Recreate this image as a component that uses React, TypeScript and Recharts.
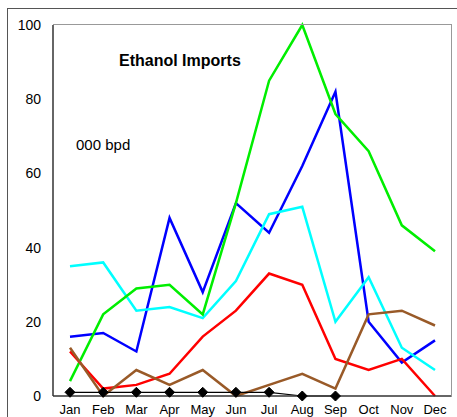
import { LineChart, Line, XAxis, YAxis } from "recharts"

const months = ["Jan", "Feb", "Mar", "Apr", "May", "Jun", "Jul", "Aug", "Sep", "Oct", "Nov", "Dec"]

const blueSeries = [16, 17, 12, 48, 28, 52, 44, 62, 82, 20, 9, 15]
const cyanSeries = [35, 36, 23, 24, 21, 31, 49, 51, 20, 32, 13, 7]
const greenSeries = [4, 22, 29, 30, 22, 52, 85, 100, 76, 66, 46, 39]
const redSeries = [12, 2, 3, 6, 16, 23, 33, 30, 10, 7, 10, 0]
const brownSeries = [13, 0, 7, 3, 7, 0, 3, 6, 2, 22, 23, 19]
const blackSeries = [1, 1, 1, 1, 1, 1, 1, 0, 0, null, null, null]

const yTicks = [0, 20, 40, 60, 80, 100]

const data = months.map((m, i) => ({
  month: m,
  blue: blueSeries[i],
  cyan: cyanSeries[i],
  green: greenSeries[i],
  red: redSeries[i],
  brown: brownSeries[i],
  black: blackSeries[i],
}))

const font = "'Liberation Sans', Arial, sans-serif"

// diamond marker for the black series
function Diamond(props: any) {
  const { cx, cy, key } = props
  if (cx == null || cy == null || props.value == null) return <g key={key} />
  const r = 5
  return (
    <path
      key={key}
      d={`M${cx},${cy - r} L${cx + r},${cy} L${cx},${cy + r} L${cx - r},${cy} Z`}
      fill="#000"
      stroke="#000"
    />
  )
}

export default function App() {
  return (
    <div
      style={{
        position: "absolute",
        left: 0,
        top: 0,
        width: 457,
        height: 417,
        background: "#fff",
        overflow: "hidden",
        fontFamily: font,
      }}
    >
      <LineChart
        width={457}
        height={417}
        data={data}
        margin={{ top: 25, right: 5, left: 0, bottom: 0 }}
      >
        <XAxis
          dataKey="month"
          height={21}
          padding={{ left: 17, right: 17 }}
          tickLine={false}
          tickSize={0}
          tickMargin={9}
          axisLine={{ stroke: "#333", strokeWidth: 1.5 }}
          tick={{ fill: "#000", fontSize: 13, fontFamily: font }}
          interval={0}
        />
        <YAxis
          width={53}
          domain={[0, 100]}
          ticks={yTicks}
          tickLine={false}
          tickSize={0}
          tickMargin={12}
          axisLine={{ stroke: "#333", strokeWidth: 1.5 }}
          tick={{ fill: "#000", fontSize: 14, fontFamily: font }}
        />

        <Line dataKey="blue" stroke="#0000ff" strokeWidth={2.5} dot={false} isAnimationActive={false} />
        <Line dataKey="cyan" stroke="#00ffff" strokeWidth={2.5} dot={false} isAnimationActive={false} />
        <Line dataKey="green" stroke="#00ee00" strokeWidth={2.5} dot={false} isAnimationActive={false} />
        <Line dataKey="red" stroke="#ff0000" strokeWidth={2.5} dot={false} isAnimationActive={false} />
        <Line dataKey="brown" stroke="#995a28" strokeWidth={2.5} dot={false} isAnimationActive={false} />
        <Line
          dataKey="black"
          stroke="#000"
          strokeWidth={1.2}
          dot={Diamond}
          activeDot={false}
          isAnimationActive={false}
        />

        <text x={119} y={66} fontSize={16} fontWeight="bold" fontFamily={font} fill="#000">
          Ethanol Imports
        </text>
        <text x={76} y={150} fontSize={15} fontFamily={font} fill="#000">
          000 bpd
        </text>
      </LineChart>

      {/* plot frame, top and right sides */}
      <div
        style={{
          position: "absolute",
          left: 53,
          top: 24,
          width: 398,
          height: 372,
          borderTop: "1.5px solid #999",
          borderRight: "1.5px solid #999",
          pointerEvents: "none",
        }}
      />

      {/* outer frame */}
      <div
        style={{
          position: "absolute",
          left: 7,
          top: 8,
          width: 470,
          height: 430,
          borderLeft: "1.5px solid #555",
          borderTop: "1.5px solid #555",
          pointerEvents: "none",
        }}
      />
    </div>
  )
}
